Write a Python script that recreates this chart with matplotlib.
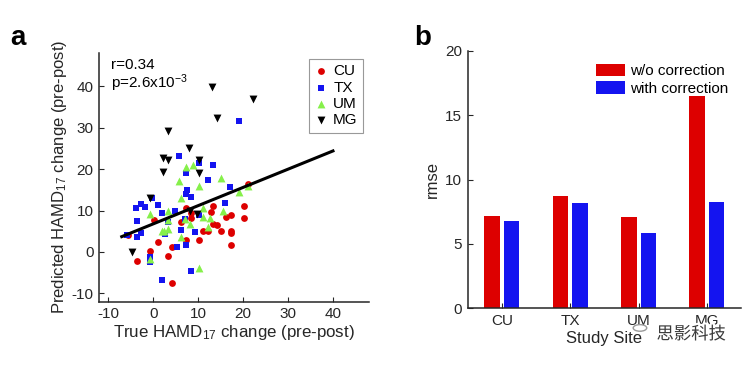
import matplotlib
matplotlib.use('Agg')
import matplotlib.pyplot as plt
import matplotlib.patheffects as pe
import numpy as np

plt.rcParams['font.family'] = ['Liberation Sans', 'DejaVu Sans']
plt.rcParams['mathtext.fontset'] = 'custom'
plt.rcParams['mathtext.rm'] = 'Liberation Sans'
plt.rcParams['mathtext.default'] = 'regular'
plt.rcParams['axes.unicode_minus'] = False

# ---- panel a data (true vs predicted HAMD17 change) ----
cu_true = [-5.7, -3.7, -0.7, 0.2, 1.1, 3.2, 4.1, 4.1, 6.1, 7.2, 7.2, 8.3, 8.3, 10.1,
           11.1, 12.2, 12.9, 13.2, 13.3, 14.2, 15.1, 16.1, 17.2, 17.2, 17.2, 17.2,
           20.1, 20.1, 21.0]
cu_pred = [4.0, -2.2, 0.2, 7.6, 2.4, -1.0, 1.2, -7.4, 7.2, 10.6, 2.9, 9.5, 8.1, 2.9,
           5.1, 5.1, 9.7, 11.2, 6.8, 6.6, 5.1, 8.5, 8.9, 5.1, 4.5, 1.6,
           11.2, 8.1, 16.5]

tx_true = [-5.8, -3.9, -3.7, -3.7, -2.8, -2.8, -1.8, -0.7, -0.7, -0.2, 1.1, 2.0, 2.0,
           2.7, 3.2, 4.9, 5.2, 5.8, 6.1, 7.2, 7.2, 7.5, 7.2, 8.3, 7.0, 8.3, 9.2,
           10.1, 10.1, 12.2, 13.2, 15.9, 17.0, 19.2]
tx_pred = [4.0, 10.7, 7.5, 3.7, 11.6, 4.5, 10.9, -2.4, -1.1, 13.0, 11.3, 9.5, -6.8,
           4.3, 7.2, 10.0, 1.1, 23.1, 5.2, 19.0, 1.7, 14.9, 14.1, 13.3, 8.0, -4.7, 4.8,
           21.4, 8.8, 17.3, 21.0, 11.8, 15.7, 31.7]

um_true = [-0.7, -0.7, 1.9, 3.2, 3.2, 3.2, 2.3, 5.8, 6.1, 6.1, 7.2, 8.9, 7.0, 8.2,
           10.1, 10.1, 11.1, 11.1, 12.2, 12.7, 15.1, 15.6, 19.2, 21.0]
um_pred = [9.1, -1.8, 5.1, 9.8, 7.6, 5.5, 5.1, 17.0, 12.9, 3.5, 20.6, 21.0, 7.9, 6.7,
           15.9, -3.9, 10.7, 8.4, 6.0, 8.1, 17.9, 9.8, 14.5, 15.9]

mg_true = [-4.8, -0.7, 2.1, 2.1, 3.2, 3.2, 8.0, 8.2, 10.1, 10.1, 9.8, 13.1, 14.1, 22.1]
mg_pred = [0.0, 12.9, 22.7, 19.4, 29.2, 22.1, 25.0, 9.9, 22.3, 19.1, 9.1, 39.8, 32.4, 36.8]

fit_slope = 0.44
fit_intercept = 6.77
fit_x = [-7, 40]
r_text = 'r=0.34'
p_text = r'p=2.6x10$^{-3}$'

# ---- panel b data (rmse per site) ----
sites = ['CU', 'TX', 'UM', 'MG']
rmse_wo = [7.2, 8.73, 7.07, 16.53]
rmse_with = [6.8, 8.19, 5.85, 8.26]

RED = '#DD0000'
BLUE = '#1414F0'
GREEN = '#86F04A'
AX_COL = '#262626'

fig = plt.figure(figsize=(7.52, 3.66), dpi=100)


def style_axes(ax):
    for side in ('top', 'right'):
        ax.spines[side].set_visible(False)
    for side in ('left', 'bottom'):
        ax.spines[side].set_color(AX_COL)
        ax.spines[side].set_linewidth(1.1)
    ax.tick_params(direction='in', length=3.5, width=0.8, colors=AX_COL,
                   labelsize=11, pad=4, labelcolor='#262626')


# ---- panel a ----
ax1 = fig.add_axes([0.132, 0.1757, 0.3586, 0.6795])
style_axes(ax1)
ax1.scatter(cu_true, cu_pred, s=24, marker='o', color=RED, label='CU', zorder=3, linewidths=0)
ax1.scatter(tx_true, tx_pred, s=18, marker='s', color=BLUE, label='TX', zorder=3, linewidths=0)
ax1.scatter(um_true, um_pred, s=32, marker='^', color=GREEN, label='UM', zorder=3, linewidths=0)
ax1.scatter(mg_true, mg_pred, s=32, marker='v', color='black', label='MG', zorder=3, linewidths=0)
fx = np.array(fit_x, dtype=float)
ax1.plot(fx, fit_slope * fx + fit_intercept, color='black', lw=2.2, zorder=4)
ax1.set_xlim(-12, 48)
ax1.set_ylim(-12, 48)
ax1.set_xticks([-10, 0, 10, 20, 30, 40])
ax1.set_yticks([-10, 0, 10, 20, 30, 40])
ax1.set_xlabel(r'True HAMD$_{17}$ change (pre-post)', fontsize=12.2, color='#262626', labelpad=1)
ax1.set_ylabel(r'Predicted HAMD$_{17}$ change (pre-post)', fontsize=12, color='#262626', labelpad=2)
ax1.text(0.042, 0.95, r_text, transform=ax1.transAxes, fontsize=11, va='center', ha='left')
ax1.text(0.042, 0.878, p_text, transform=ax1.transAxes, fontsize=11, va='center', ha='left')
leg1 = ax1.legend(loc='upper right', bbox_to_anchor=(0.978, 0.976), borderaxespad=0,
                  fontsize=11, fancybox=False, framealpha=1, edgecolor='#999999',
                  handlelength=0.8, handletextpad=0.4, labelspacing=0.15, borderpad=0.35,
                  scatterpoints=1)
leg1.get_frame().set_linewidth(0.8)

# ---- panel b ----
ax2 = fig.add_axes([0.622, 0.1577, 0.3634, 0.703])
style_axes(ax2)
xpos = np.arange(1, len(sites) + 1)
bw = 0.228
off = 0.143
ax2.bar(xpos - off, rmse_wo, width=bw, color=RED, label='w/o correction')
ax2.bar(xpos + off, rmse_with, width=bw, color=BLUE, label='with correction')
ax2.set_xlim(0.5, 4.5)
ax2.set_ylim(0, 20)
ax2.set_xticks(xpos)
ax2.set_xticklabels(sites)
ax2.set_yticks([0, 5, 10, 15, 20])
ax2.set_ylabel('rmse', fontsize=12, color='#262626', labelpad=4)
ax2.set_xlabel('Study Site', fontsize=12, color='#262626', labelpad=2)
ax2.legend(loc='upper right', bbox_to_anchor=(0.975, 0.975), borderaxespad=0,
           frameon=False, fontsize=11, handlelength=1.9, handleheight=0.9,
           handletextpad=0.3, labelspacing=0.2)

# panel letters
fig.text(0.014, 0.877, 'a', fontsize=20, fontweight='bold', va='baseline')
fig.text(0.551, 0.877, 'b', fontsize=20, fontweight='bold', va='baseline')

# watermark
fig.text(0.873, 0.087, '思影科技', fontsize=12.5, color='#3a3a3a', ha='left', va='center',
         family=['Noto Sans CJK SC', 'DejaVu Sans'],
         path_effects=[pe.withStroke(linewidth=3, foreground='white')])
fig.patches.append(plt.Circle((0.851, 0.104), 0.009, transform=fig.transFigure,
                              fill=False, edgecolor='#9a9a9a', lw=1.0))

fig.savefig('out.png', dpi=100)
